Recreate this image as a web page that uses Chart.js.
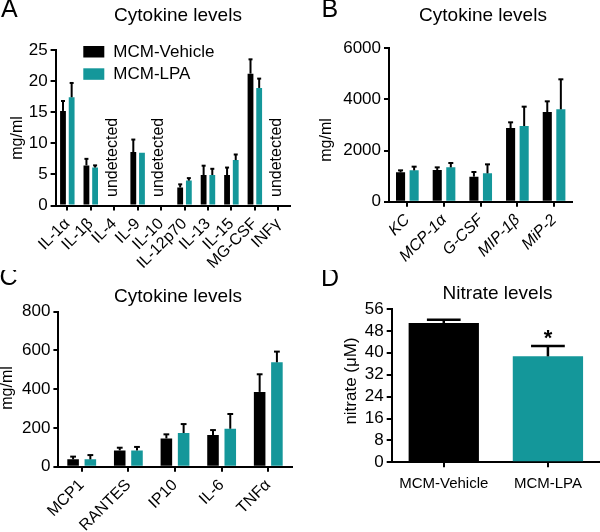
<!DOCTYPE html>
<html>
<head>
<meta charset="utf-8">
<script src="https://cdn.jsdelivr.net/npm/chart.js@4.4.1/dist/chart.umd.min.js"></script>
<style>
  html, body { margin: 0; padding: 0; background: #fff; width: 600px; height: 532px; overflow: hidden; }
  .panel { position: absolute; }
  canvas { display: block; }
</style>
</head>
<body>
<div class="panel" style="left:0;top:0;"><canvas id="cA" width="300" height="270"></canvas></div>
<div class="panel" style="left:300px;top:0;"><canvas id="cB" width="300" height="270"></canvas></div>
<div class="panel" style="left:0;top:270px;"><canvas id="cC" width="300" height="262"></canvas></div>
<div class="panel" style="left:300px;top:270px;"><canvas id="cD" width="300" height="262"></canvas></div>
<script>
// ---------------- DATA ----------------
const seriesNames = ['MCM-Vehicle', 'MCM-LPA'];

// Panel A – Cytokine levels (mg/ml)
const catA = ['IL-1\u03B1', 'IL-1\u03B2', 'IL-4', 'IL-9', 'IL-10', 'IL-12p70', 'IL-13', 'IL-15', 'MG-CSF', 'INF\u03B3'];
const vehA = [15.2, 6.45, null, 8.6, null, 2.9, 4.9, 4.9, 21.2, null];
const vehA_sem = [1.6, 1.05, null, 2.0, null, 0.5, 1.5, 1.2, 2.3, null];
const lpaA = [17.4, 6.1, null, 8.5, null, 4.0, 4.9, 7.3, 18.9, null];
const lpaA_sem = [2.3, 0.35, null, null, null, 0.4, 1.0, 0.9, 1.5, null];
const undetectedA = ['IL-4', 'IL-10', 'INF\u03B3'];
const yTicksA = [0, 5, 10, 15, 20, 25];

// Panel B – Cytokine levels (mg/ml)
const catB = ['KC', 'MCP-1\u03B1', 'G-CSF', 'MIP-1\u03B2', 'MiP-2'];
const vehB = [1148, 1239, 978, 2883, 3509];
const vehB_sem = [78, 104, 183, 221, 417];
const lpaB = [1226, 1343, 1109, 2961, 3613];
const lpaB_sem = [144, 170, 352, 756, 1174];
const yTicksB = [0, 2000, 4000, 6000];

// Panel C – Cytokine levels (mg/ml)
const catC = ['MCP1', 'RANTES', 'IP10', 'IL-6', 'TNF\u03B1'];
const vehC = [38, 84, 146, 163, 386];
const vehC_sem = [14, 14, 21, 26, 91];
const lpaC = [38, 84, 174, 196, 539];
const lpaC_sem = [22, 18, 46, 76, 55];
const yTicksC = [0, 200, 400, 600, 800];

// Panel D – Nitrate levels (µM)
const catD = ['MCM-Vehicle', 'MCM-LPA'];
const nitrateD = [50.9, 38.7];
const nitrateD_sem = [1.2, 3.8];
const significantD = [false, true];
const yTicksD = [0, 8, 16, 24, 32, 40, 48, 56];

// ---------------- STYLE ----------------
const FONT = "'Liberation Sans', Arial, Helvetica, sans-serif";
const BLACK = '#000000';
const TEAL = '#14979a';
Chart.defaults.font.family = FONT;
Chart.defaults.color = '#000';

function font(size, style) { return (style ? style + ' ' : '') + size + 'px ' + FONT; }

// error bar plugin (upper SEM bars, black)
const errorBars = {
  id: 'errorBars',
  afterDatasetsDraw(chart, args, opts) {
    const ctx = chart.ctx;
    const ys = chart.scales.y;
    chart.data.datasets.forEach((ds, di) => {
      if (!ds.sem) return;
      const meta = chart.getDatasetMeta(di);
      meta.data.forEach((bar, i) => {
        const v = ds.data[i], e = ds.sem[i];
        if (v == null || e == null || e <= 0) return;
        const yTop = ys.getPixelForValue(v + e);
        const yVal = ys.getPixelForValue(v);
        const cw = Math.max(bar.width * (opts.cap || 0.5), 4);
        ctx.save();
        ctx.strokeStyle = '#000';
        ctx.lineWidth = opts.lw || 2;
        ctx.beginPath();
        ctx.moveTo(bar.x, yVal);
        ctx.lineTo(bar.x, yTop);
        ctx.stroke();
        ctx.beginPath();
        ctx.moveTo(bar.x - cw / 2, yTop);
        ctx.lineTo(bar.x + cw / 2, yTop);
        ctx.stroke();
        ctx.restore();
      });
    });
  }
};

// decorations: panel letter, title, y-axis title, extra text
function deco(spec) {
  return {
    id: 'deco',
    afterDraw(chart) {
      const ctx = chart.ctx;
      ctx.save();
      ctx.fillStyle = '#000';
      ctx.font = font(25);
      ctx.textAlign = 'left';
      ctx.textBaseline = 'middle';
      ctx.fillText(spec.letter, spec.letterX, spec.letterY);
      ctx.font = font(19);
      ctx.textAlign = 'center';
      ctx.fillText(spec.title, spec.titleX, spec.titleY);
      ctx.save();
      ctx.translate(spec.yTitleX, spec.yTitleY);
      ctx.rotate(-Math.PI / 2);
      ctx.font = font(spec.yTitleSize || 16);
      ctx.textAlign = 'center';
      ctx.textBaseline = 'middle';
      ctx.fillText(spec.yTitle, 0, 0);
      ctx.restore();
      if (spec.extra) spec.extra(chart, ctx);
      ctx.restore();
    }
  };
}

function xAxis(height) {
  return {
    type: 'category',
    offset: true,
    grid: { display: true, drawOnChartArea: false, drawTicks: true, tickLength: 5, offset: false, color: '#000', lineWidth: 2 },
    border: { display: true, color: '#000', width: 2 },
    ticks: { autoSkip: false, maxRotation: 45, minRotation: 45, font: { size: 16 }, color: '#000', padding: 4 },
    afterFit(s) { s.height = height; }
  };
}
function yAxis(ticksArr, width) {
  return {
    min: ticksArr[0],
    max: ticksArr[ticksArr.length - 1],
    ticks: {
      stepSize: ticksArr[1] - ticksArr[0], autoSkip: false,
      font: { size: 17 }, color: '#000', padding: 3,
      callback: (v) => String(v)
    },
    grid: { display: true, drawOnChartArea: false, drawTicks: true, tickLength: 5, color: '#000', lineWidth: 2 },
    border: { display: true, color: '#000', width: 2 },
    afterFit(s) { s.width = width; }
  };
}
function baseOptions(pad) {
  return {
    responsive: false,
    animation: false,
    devicePixelRatio: 1,
    layout: { padding: pad },
    plugins: { legend: { display: false }, title: { display: false }, tooltip: { enabled: false } }
  };
}
function groupedDatasets(veh, vehSem, lpa, lpaSem) {
  return [
    { label: seriesNames[0], data: veh, sem: vehSem, backgroundColor: BLACK, borderWidth: 0, categoryPercentage: 0.74, barPercentage: 0.67 },
    { label: seriesNames[1], data: lpa, sem: lpaSem, backgroundColor: TEAL, borderWidth: 0, categoryPercentage: 0.74, barPercentage: 0.67 }
  ];
}

// ---------------- PANEL A ----------------
(function () {
  const optsA = baseOptions({ left: 0, right: 10, top: 50, bottom: 0 });
  optsA.scales = { x: xAxis(64.5), y: yAxis(yTicksA, 55.6) };
  optsA.plugins.errorBars = { cap: 0.6, lw: 2 };
  new Chart(document.getElementById('cA'), {
    type: 'bar',
    data: { labels: catA, datasets: groupedDatasets(vehA, vehA_sem, lpaA, lpaA_sem) },
    options: optsA,
    plugins: [errorBars, deco({
      letter: 'A', letterX: 1, letterY: 10.5,
      title: 'Cytokine levels', titleX: 178, titleY: 15.5,
      yTitle: 'mg/ml', yTitleX: 18, yTitleY: 138, yTitleSize: 16,
      extra(chart, ctx) {
        const colors = [BLACK, TEAL];
        const boxY = [46, 68.3];
        const textY = [52.5, 74.5];
        ctx.font = font(17);
        ctx.textAlign = 'left';
        ctx.textBaseline = 'middle';
        seriesNames.forEach((n, i) => {
          ctx.fillStyle = colors[i];
          ctx.fillRect(83.3, boxY[i], 21, 11.5);
          ctx.fillStyle = '#000';
          ctx.fillText(n, 113.3, textY[i]);
        });
        const xs = chart.scales.x;
        ctx.font = font(16);
        undetectedA.forEach(lbl => {
          const idx = catA.indexOf(lbl);
          const x = xs.getPixelForValue(idx) - 2;
          ctx.save();
          ctx.translate(x, 197);
          ctx.rotate(-Math.PI / 2);
          ctx.textAlign = 'left';
          ctx.textBaseline = 'middle';
          ctx.fillText('undetected', 0, 0);
          ctx.restore();
        });
      }
    })]
  });
})();

// ---------------- PANEL B ----------------
(function () {
  const optsB = baseOptions({ left: 0, right: 27.6, top: 48.3, bottom: 0 });
  const xb = xAxis(68.3);
  xb.ticks.font = { size: 16, style: 'italic' };
  optsB.scales = { x: xb, y: yAxis(yTicksB, 89) };
  optsB.plugins.errorBars = { cap: 0.55, lw: 2 };
  new Chart(document.getElementById('cB'), {
    type: 'bar',
    data: { labels: catB, datasets: groupedDatasets(vehB, vehB_sem, lpaB, lpaB_sem) },
    options: optsB,
    plugins: [errorBars, deco({
      letter: 'B', letterX: 21.5, letterY: 10.5,
      title: 'Cytokine levels', titleX: 183, titleY: 15.5,
      yTitle: 'mg/ml', yTitleX: 27, yTitleY: 140, yTitleSize: 16
    })]
  });
})();

// ---------------- PANEL C ----------------
(function () {
  const optsC = baseOptions({ left: 0, right: 8.4, top: 41.7, bottom: 0 });
  optsC.scales = { x: xAxis(65.3), y: yAxis(yTicksC, 58.4) };
  optsC.plugins.errorBars = { cap: 0.5, lw: 2 };
  new Chart(document.getElementById('cC'), {
    type: 'bar',
    data: { labels: catC, datasets: groupedDatasets(vehC, vehC_sem, lpaC, lpaC_sem) },
    options: optsC,
    plugins: [errorBars, deco({
      letter: 'C', letterX: -0.5, letterY: 8,
      title: 'Cytokine levels', titleX: 178, titleY: 26.7,
      yTitle: 'mg/ml', yTitleX: 7.5, yTitleY: 118, yTitleSize: 16
    })]
  });
})();

// ---------------- PANEL D ----------------
(function () {
  const optsD = baseOptions({ left: 0, right: 0, top: 39, bottom: 0 });
  const xd = xAxis(69.7);
  xd.ticks = { autoSkip: false, maxRotation: 0, minRotation: 0, font: { size: 15 }, color: '#000', padding: 8 };
  optsD.scales = { x: xd, y: yAxis(yTicksD, 91.7) };
  optsD.plugins.errorBars = { cap: 0.48, lw: 2.5 };
  new Chart(document.getElementById('cD'), {
    type: 'bar',
    data: {
      labels: catD,
      datasets: [{ label: 'nitrate', data: nitrateD, sem: nitrateD_sem, backgroundColor: [BLACK, TEAL], borderWidth: 0, categoryPercentage: 1, barPercentage: 0.675 }]
    },
    options: optsD,
    plugins: [errorBars, deco({
      letter: 'D', letterX: 21, letterY: 9.5,
      title: 'Nitrate levels', titleX: 197.5, titleY: 24,
      yTitle: 'nitrate (\u03BCM)', yTitleX: 51.7, yTitleY: 111, yTitleSize: 17,
      extra(chart, ctx) {
        const meta = chart.getDatasetMeta(0);
        const ys = chart.scales.y;
        ctx.font = font(22, 'bold');
        ctx.textAlign = 'center';
        ctx.textBaseline = 'alphabetic';
        significantD.forEach((sig, i) => {
          if (!sig) return;
          const top = ys.getPixelForValue(nitrateD[i] + nitrateD_sem[i]);
          const cy = top - 11.7;
          const m = ctx.measureText('*');
          const base = cy + (m.actualBoundingBoxAscent - m.actualBoundingBoxDescent) / 2;
          ctx.fillText('*', meta.data[i].x, base);
        });
      }
    })]
  });
})();
</script>
</body>
</html>
